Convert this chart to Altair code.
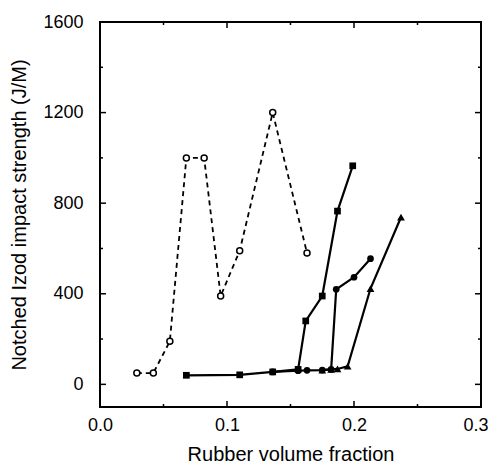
import altair as alt
import pandas as pd

# Open circles (dashed line)
open_x = [0.029, 0.042, 0.055, 0.068, 0.082, 0.095, 0.110, 0.136, 0.163]
open_y = [50, 50, 190, 1000, 1000, 390, 590, 1200, 580]

# Filled squares
sq_x = [0.068, 0.110, 0.136, 0.156, 0.162, 0.175, 0.187, 0.199]
sq_y = [40, 42, 55, 66, 280, 390, 765, 965]

# Filled circles
ci_x = [0.136, 0.156, 0.163, 0.175, 0.182, 0.186, 0.200, 0.213]
ci_y = [55, 60, 62, 63, 66, 420, 473, 555]

# Filled triangles
tr_x = [0.175, 0.182, 0.187, 0.195, 0.213, 0.237]
tr_y = [63, 66, 68, 80, 423, 738]

x_labels = [0.0, 0.1, 0.2, 0.3]
y_labels = [0, 400, 800, 1200, 1600]
x_major = [0.1, 0.2]
x_minor = [0.05, 0.15, 0.25]
y_major = [0, 400, 800, 1200]
y_minor = [200, 600, 1000, 1400]
x_domain = [0.0, 0.3]
y_domain = [-100, 1600]

W, H = 381, 385

df_open = pd.DataFrame({"x": open_x, "y": open_y})
df_sq = pd.DataFrame({"x": sq_x, "y": sq_y})
df_ci = pd.DataFrame({"x": ci_x, "y": ci_y})
df_tr = pd.DataFrame({"x": tr_x, "y": tr_y})

xs = alt.Scale(domain=x_domain, nice=False, zero=False)
ys = alt.Scale(domain=y_domain, nice=False, zero=False)

FONT = "Liberation Sans"

x_main = alt.Axis(values=x_labels, format=".1f", ticks=False, domain=False, grid=False,
                  labelFlush=False,
                  labelAlign={"condition": {"test": "datum.value >= 0.29", "value": "right"},
                              "value": "center"},
                  labelOffset={"condition": {"test": "datum.value >= 0.29", "value": 7},
                               "value": 0},
                  labelFontSize=18, labelPadding=9, labelFont=FONT, labelColor="black",
                  title="Rubber volume fraction", titleFontSize=20, titleFont=FONT,
                  titleFontWeight="normal", titlePadding=10, titleColor="black")
y_main = alt.Axis(values=y_labels, format="d", ticks=False, domain=False, grid=False,
                  labelFlush=False,
                  labelFontSize=18, labelPadding=17, labelFont=FONT, labelColor="black",
                  title="Notched Izod impact strength (J/M)", titleFontSize=20, titleFont=FONT,
                  titleFontWeight="normal", titlePadding=13, titleColor="black")

X = alt.X("x:Q", scale=xs, axis=x_main)
Y = alt.Y("y:Q", scale=ys, axis=y_main)


def series(df, shape, size, dash=None, filled=True):
    line_kwargs = dict(color="black", strokeWidth=2.2)
    if dash:
        line_kwargs["strokeDash"] = dash
        line_kwargs["strokeWidth"] = 1.8
    line = alt.Chart(df).mark_line(**line_kwargs).encode(x=X, y=Y)
    if filled:
        pts = alt.Chart(df).mark_point(shape=shape, size=size, filled=True, color="black",
                                       opacity=1).encode(x=X, y=Y)
    else:
        pts = alt.Chart(df).mark_point(shape=shape, size=size, filled=True, fill="white",
                                       stroke="black", strokeWidth=1.5, opacity=1).encode(x=X, y=Y)
    return [line, pts]


# tick lengths expressed in data units of each scale
def dx(px):
    return px / W * (x_domain[1] - x_domain[0])


def dy(px):
    return px / H * (y_domain[1] - y_domain[0])


def xticks(vals, length):
    out = []
    for edge, sign in ((y_domain[0], 1), (y_domain[1], -1)):
        df = pd.DataFrame({"x": vals, "y0": [edge] * len(vals),
                           "y1": [edge + sign * dy(length)] * len(vals)})
        out.append(alt.Chart(df).mark_rule(color="black", strokeWidth=1.5)
                   .encode(x=X, y=alt.Y("y0:Q", scale=ys, axis=y_main), y2="y1:Q"))
    return out


def yticks(vals, length):
    out = []
    for edge, sign in ((x_domain[0], 1), (x_domain[1], -1)):
        df = pd.DataFrame({"y": vals, "x0": [edge] * len(vals),
                           "x1": [edge + sign * dx(length)] * len(vals)})
        out.append(alt.Chart(df).mark_rule(color="black", strokeWidth=1.5)
                   .encode(y=Y, x=alt.X("x0:Q", scale=xs, axis=x_main), x2="x1:Q"))
    return out


# frame lines along the four edges of the plot
df_fx = pd.DataFrame({"x": x_domain, "y0": [y_domain[0]] * 2, "y1": [y_domain[1]] * 2})
df_fy = pd.DataFrame({"y": y_domain, "x0": [x_domain[0]] * 2, "x1": [x_domain[1]] * 2})
frame = [
    alt.Chart(df_fx).mark_rule(color="black", strokeWidth=2)
    .encode(x=X, y=alt.Y("y0:Q", scale=ys, axis=y_main), y2="y1:Q"),
    alt.Chart(df_fy).mark_rule(color="black", strokeWidth=2)
    .encode(y=Y, x=alt.X("x0:Q", scale=xs, axis=x_main), x2="x1:Q"),
]

layers = []
layers += series(df_open, "circle", 36, dash=[5, 4], filled=False)
layers += series(df_sq, "square", 45)
layers += series(df_ci, "circle", 45)
layers += series(df_tr, "triangle-up", 60)
layers += xticks(x_major, 6) + xticks(x_minor, 3)
layers += yticks(y_major, 6) + yticks(y_minor, 3)
layers += frame

chart = alt.layer(*layers).properties(
    width=W, height=H,
    autosize=alt.AutoSizeParams(type="none"),
    padding={"left": 92, "top": 14, "right": 7, "bottom": 58},
    background="white",
).configure_view(stroke="black", strokeWidth=2)

chart.save("out.html", embed_options={"renderer": "svg", "actions": False})
